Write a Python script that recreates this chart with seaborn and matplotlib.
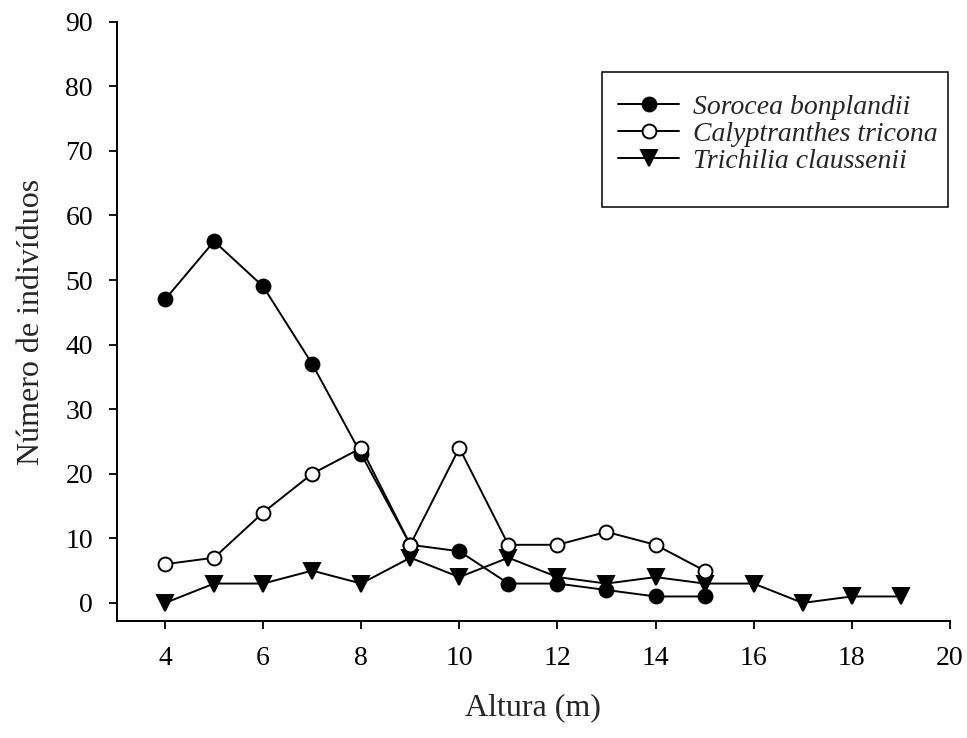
import matplotlib
matplotlib.use("Agg")
import matplotlib.pyplot as plt
from matplotlib.patches import Rectangle
import seaborn as sns
import pandas as pd

alturas_a = [4, 5, 6, 7, 8, 9, 10, 11, 12, 13, 14, 15]
sorocea = [47, 56, 49, 37, 23, 9, 8, 3, 3, 2, 1, 1]
calyptranthes = [6, 7, 14, 20, 24, 9, 24, 9, 9, 11, 9, 5]
alturas_t = [4, 5, 6, 7, 8, 9, 10, 11, 12, 13, 14, 15, 16, 17, 18, 19]
trichilia = [0, 3, 3, 5, 3, 7, 4, 7, 4, 3, 4, 3, 3, 0, 1, 1]

nomes = ["Sorocea bonplandii", "Calyptranthes tricona", "Trichilia claussenii"]
xticks = [4, 6, 8, 10, 12, 14, 16, 18, 20]
yticks = [0, 10, 20, 30, 40, 50, 60, 70, 80, 90]

sns.set_theme(style="ticks")
plt.rcParams['font.family'] = ['Liberation Serif', 'DejaVu Serif']

fig = plt.figure(figsize=(9.67, 7.38), dpi=100)
ax = fig.add_axes([0.121, 0.158, 0.8612, 0.8126])

df_s = pd.DataFrame({"x": alturas_a, "y": sorocea})
df_c = pd.DataFrame({"x": alturas_a, "y": calyptranthes})
df_t = pd.DataFrame({"x": alturas_t, "y": trichilia})

common = dict(color="black", linewidth=1.4, markeredgewidth=1.4,
              markeredgecolor="black", ax=ax)
sns.lineplot(data=df_s, x="x", y="y", marker="o", markerfacecolor="black",
             markersize=10, label=nomes[0], zorder=3, **common)
sns.lineplot(data=df_c, x="x", y="y", marker="o", markerfacecolor="white",
             markersize=10, label=nomes[1], zorder=4, **common)
sns.lineplot(data=df_t, x="x", y="y", marker="v", markerfacecolor="black",
             markersize=11, label=nomes[2], zorder=2, **common)

ax.set_xlim(3.02, 20)
ax.set_ylim(-2.86, 90)
ax.set_xticks(xticks)
ax.set_yticks(yticks)
ax.tick_params(axis="both", direction="out", length=5.8, width=1.3, labelsize=20,
               colors="black")
ax.tick_params(axis="x", pad=11.8)
ax.tick_params(axis="y", pad=11.5)
for s in ["top", "right"]:
    ax.spines[s].set_visible(False)
for s in ["left", "bottom"]:
    ax.spines[s].set_linewidth(1.4)
    ax.spines[s].set_color("black")

ax.set_xlabel("Altura (m)", fontsize=23, labelpad=16)
ax.set_ylabel("Número de indivíduos", fontsize=23, labelpad=14)

ax.add_patch(Rectangle((0.582, 0.691), 0.416, 0.225, transform=ax.transAxes,
                       fill=False, edgecolor="black", linewidth=1.1,
                       clip_on=False, zorder=5))

leg = ax.legend(loc="upper left", bbox_to_anchor=(0.6016, 0.8793), frameon=False,
                prop={"style": "italic", "size": 20},
                handlelength=2.2, borderpad=0, labelspacing=0.06,
                handletextpad=0.5, borderaxespad=0)

fig.savefig("out.png", dpi=100)
